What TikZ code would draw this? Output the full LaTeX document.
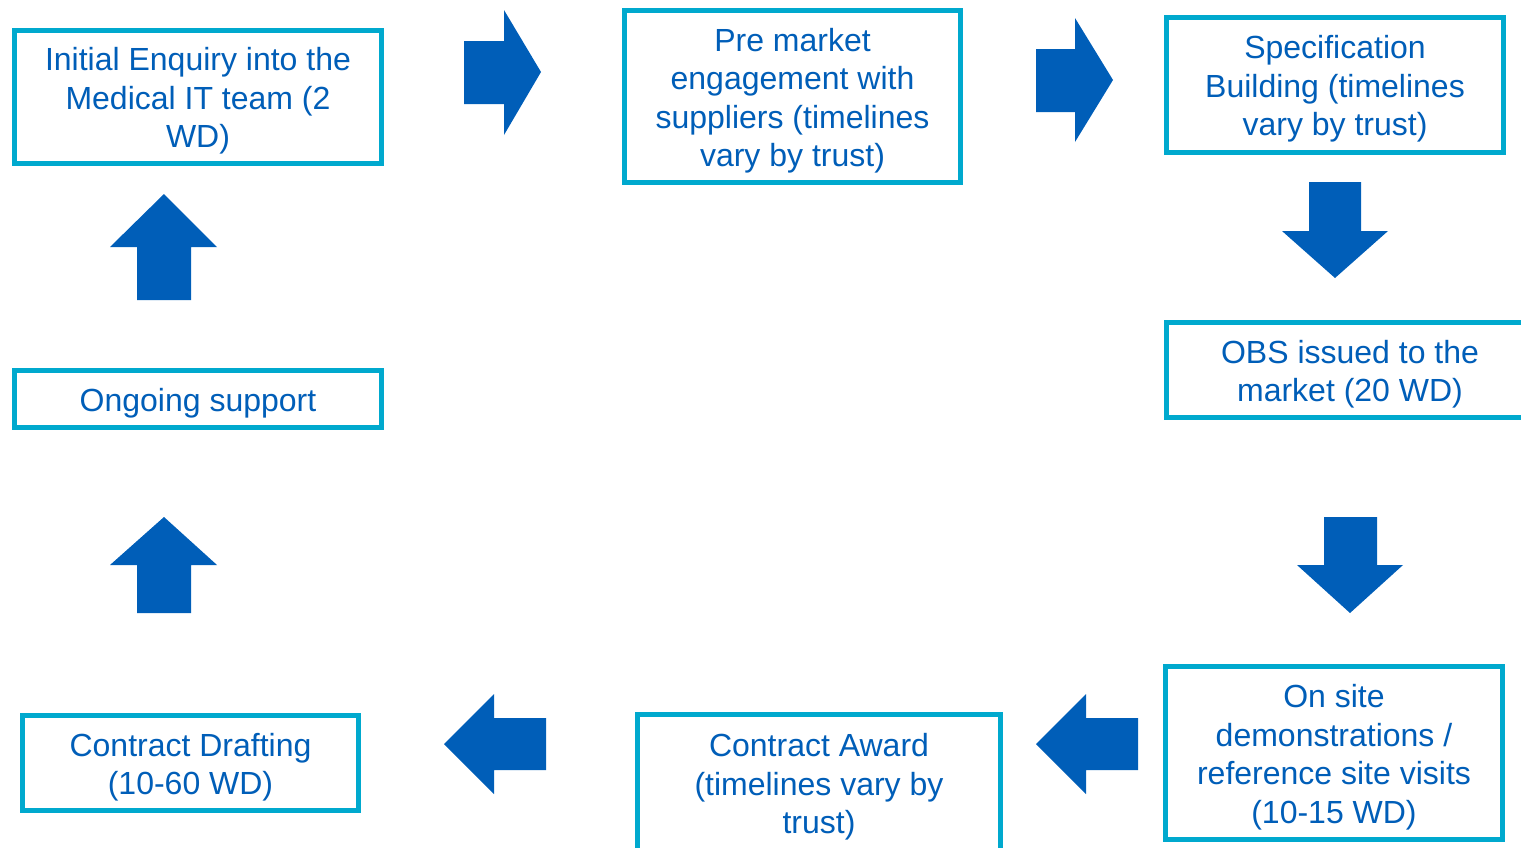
\documentclass[tikz,border=0pt]{standalone}
\usepackage{fontspec}
\setmainfont{Liberation Sans}
\definecolor{boxcyan}{HTML}{00A9CE}
\definecolor{nhsblue}{HTML}{005EB8}
\begin{document}
\begin{tikzpicture}[x=1pt,y=-1pt,
  stepbox/.style={draw=boxcyan,line width=5pt,fill=white,inner sep=0pt},
  steptext/.style={inner sep=0pt,text=nhsblue,align=center,font=\fontsize{32}{38.5}\selectfont},
  blockarrow/.style={fill=nhsblue,draw=none}]
\useasboundingbox (0,0) rectangle (1521,847);
\clip (0,0) rectangle (1521,847);
% boxes
\node[stepbox,minimum width=367,minimum height=133] (b1) at (198,97) {};
\node[steptext] (t1) at ([yshift=-4pt]b1.center) {Initial Enquiry into the\\Medical IT team (2\\WD)};
\node[stepbox,minimum width=336,minimum height=172] (b2) at (792.5,96.5) {};
\node[steptext] (t2) at ([yshift=-4pt]b2.center) {Pre market\\engagement with\\suppliers (timelines\\vary by trust)};
\node[stepbox,minimum width=337,minimum height=135] (b3) at (1335,85) {};
\node[steptext] (t3) at ([yshift=-4pt]b3.center) {Specification\\Building (timelines\\vary by trust)};
\node[stepbox,minimum width=367,minimum height=95] (b4) at (1350,370) {};
\node[steptext] (t4) at ([yshift=-4pt]b4.center) {OBS issued to the\\market (20 WD)};
\node[stepbox,minimum width=337,minimum height=173] (b5) at (1334,753) {};
\node[steptext] (t5) at ([yshift=-4pt]b5.center) {On site\\demonstrations /\\reference site visits\\(10-15 WD)};
\node[stepbox,minimum width=363,minimum height=137] (b6) at (819,783) {};
\node[steptext] (t6) at ([yshift=-4pt]b6.center) {Contract Award\\(timelines vary by\\trust)};
\node[stepbox,minimum width=336,minimum height=95] (b7) at (190.5,763) {};
\node[steptext] (t7) at ([yshift=-4pt]b7.center) {Contract Drafting\\(10-60 WD)};
\node[stepbox,minimum width=367,minimum height=57] (b8) at (198,399) {};
\node[steptext] (t8) at ([yshift=-4pt]b8.center) {Ongoing support};
% block arrows
\fill[blockarrow] (464,41) -- (504,41) -- (504,10) -- (541,72) -- (504,135) -- (504,104) -- (464,104) -- cycle;
\fill[blockarrow] (1036,49) -- (1075,49) -- (1075,18) -- (1113,80) -- (1075,142) -- (1075,112) -- (1036,112) -- cycle;
\fill[blockarrow] (1309,182) -- (1361,182) -- (1361,231) -- (1388,231) -- (1335,278) -- (1282,231) -- (1309,231) -- cycle;
\fill[blockarrow] (1324,517) -- (1377,517) -- (1377,565) -- (1403,565) -- (1350,613) -- (1297,565) -- (1324,565) -- cycle;
\fill[blockarrow] (1138,718) -- (1086,718) -- (1086,694) -- (1036,744) -- (1086,794) -- (1086,770) -- (1138,770) -- cycle;
\fill[blockarrow] (546,718) -- (494,718) -- (494,694) -- (444,744) -- (494,794) -- (494,770) -- (546,770) -- cycle;
\fill[blockarrow] (137,300) -- (137,247) -- (110,247) -- (164,194) -- (217,247) -- (191,247) -- (191,300) -- cycle;
\fill[blockarrow] (137,613) -- (137,565) -- (110,565) -- (164,517) -- (217,565) -- (191,565) -- (191,613) -- cycle;
\end{tikzpicture}
\end{document}
